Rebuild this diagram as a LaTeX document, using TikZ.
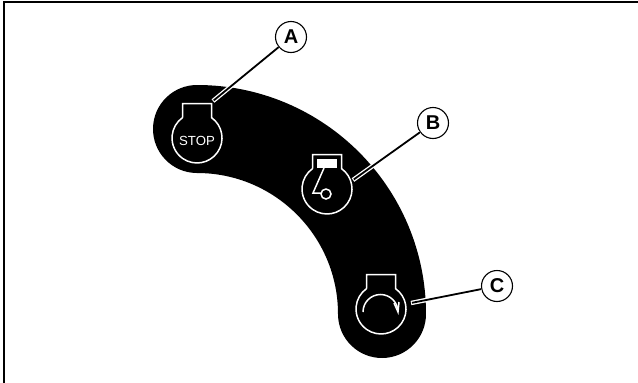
\documentclass[tikz,border=0pt]{standalone}
\usepackage{fontspec}
\setmainfont{Liberation Sans}
\usetikzlibrary{calc}
\tikzset{
  x=1pt,y=-1pt,
  frameline/.style={draw=black,line width=2pt},
  band/.style={draw=black,line width=88pt,line cap=round},
  iconline/.style={draw=white,line width=1.5pt},
  callout/.style={circle,draw=black,fill=white,line width=1.1pt,minimum size=31pt,inner sep=0pt,
    font=\fontsize{20}{20}\selectfont\bfseries},
  casing/.style={draw=white,line width=4.4pt},
  leader/.style={draw=black,line width=1.8pt,shorten <=1pt},
  dial/.pic={
    \draw[iconline] (-14.5,-20.4) -- (-14.5,-34.5) -- (14.5,-34.5) -- (14.5,-20.4)
      arc[start angle=-54.6,end angle=234.6,radius=25];
  }
}
\begin{document}
\begin{tikzpicture}
\useasboundingbox (0,0) rectangle (638,383);
\draw[frameline] (638,2) -- (4,2) -- (4,383);
\draw[band] (197,129) arc[start angle=-90,end angle=0,radius=185];
% dials
\pic at (197,138) {dial};
\pic at (327,189) {dial};
\pic at (381,309) {dial};
\node[text=white,font=\fontsize{13.2}{13.2}\selectfont,inner sep=0pt] (stop) at (197,140.5) {STOP};
% piston + crank
\fill[white] (317,159) rectangle (337,168);
\draw[iconline,line join=miter] (324,168) -- (313,193) -- (321,193);
\node[circle,iconline,minimum size=10pt,inner sep=0pt] (crank) at (326,194) {};
% rotation arrow
\draw[iconline] (363,312) arc[start angle=180,end angle=360,radius=17.5];
\draw[iconline] (394,303) -- (398,312) -- (399,302);
% callouts and leaders
\node[callout] (A) at (291,37) {A};
\node[callout] (B) at (433,123) {B};
\node[callout] (C) at (497,286) {C};
\coordinate (aend) at (213,101);
\coordinate (bend) at (353,180);
\coordinate (cend) at (411,303);
\draw[casing] (aend) -- (A);
\draw[casing] (bend) -- (B);
\draw[casing] (cend) -- (C);
\draw[leader] (aend) -- (A);
\draw[leader] (bend) -- (B);
\draw[leader] (cend) -- (C);
\end{tikzpicture}
\end{document}
